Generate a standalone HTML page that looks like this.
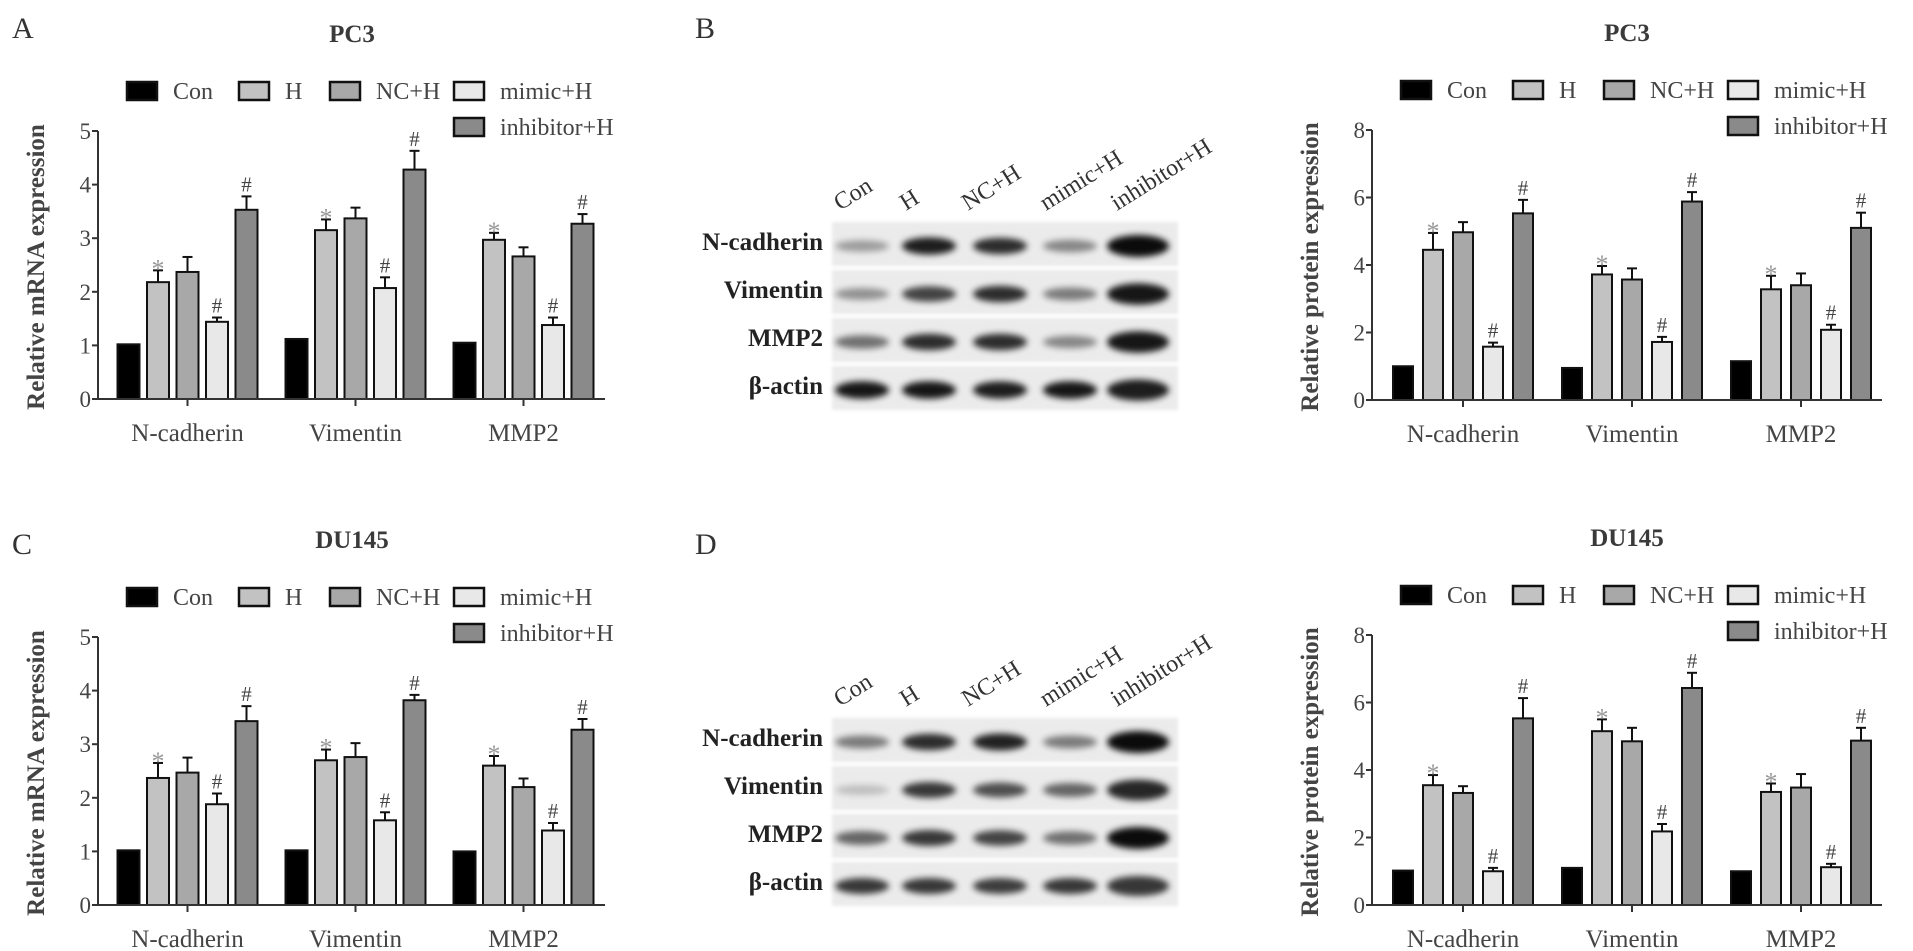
<!DOCTYPE html>
<html><head><meta charset="utf-8"><style>
html,body{margin:0;padding:0;background:#fff;}
svg{display:block;font-family:"Liberation Serif",serif;}
</style></head><body>
<svg id="fig" width="1913" height="951" viewBox="0 0 1913 951" xmlns="http://www.w3.org/2000/svg">
<defs>
<filter id="blur" x="-50%" y="-100%" width="200%" height="300%"><feGaussianBlur stdDeviation="3.2"/></filter>
<filter id="soft" x="-5%" y="-20%" width="110%" height="140%"><feGaussianBlur stdDeviation="1.5"/></filter>
</defs>
</svg>
<script>
const groups = ["N-cadherin", "Vimentin", "MMP2"];
const seriesNames = ["Con", "H", "NC+H", "mimic+H", "inhibitor+H"];
const aValues = [[1.02, 2.18, 2.37, 1.44, 3.53], [1.12, 3.15, 3.37, 2.07, 4.28], [1.05, 2.97, 2.66, 1.38, 3.27]];
const aErrors = [[0.02, 0.22, 0.28, 0.08, 0.25], [0.02, 0.2, 0.2, 0.2, 0.35], [0.02, 0.13, 0.17, 0.14, 0.18]];
const cValues = [[1.02, 2.37, 2.47, 1.88, 3.43], [1.02, 2.7, 2.76, 1.58, 3.82], [1.0, 2.6, 2.2, 1.39, 3.27]];
const cErrors = [[0.02, 0.28, 0.28, 0.2, 0.28], [0.02, 0.2, 0.26, 0.15, 0.1], [0.02, 0.18, 0.16, 0.14, 0.2]];
const bValues = [[1.0, 4.45, 4.97, 1.58, 5.53], [0.95, 3.72, 3.57, 1.72, 5.88], [1.15, 3.28, 3.4, 2.08, 5.1]];
const bErrors = [[0.02, 0.5, 0.3, 0.12, 0.4], [0.02, 0.25, 0.33, 0.15, 0.28], [0.02, 0.4, 0.35, 0.15, 0.45]];
const dValues = [[1.02, 3.55, 3.32, 1.0, 5.53], [1.1, 5.15, 4.85, 2.18, 6.43], [1.0, 3.35, 3.48, 1.12, 4.87]];
const dErrors = [[0.02, 0.3, 0.2, 0.1, 0.6], [0.02, 0.35, 0.4, 0.22, 0.45], [0.02, 0.25, 0.4, 0.1, 0.38]];
const sigMarks = ["", "*", "", "#", "#"];
const mrnaTicks = [0, 1, 2, 3, 4, 5];
const proteinTicks = [0, 2, 4, 6, 8];
const blotRows = ["N-cadherin", "Vimentin", "MMP2", "β-actin"];
const bBands = [[0.35, 0.92, 0.85, 0.45, 1.0], [0.4, 0.75, 0.85, 0.5, 0.95], [0.55, 0.85, 0.85, 0.45, 0.95], [0.95, 0.95, 0.92, 0.95, 0.92]];
const dBands = [[0.5, 0.85, 0.9, 0.5, 1.0], [0.2, 0.8, 0.7, 0.6, 0.88], [0.6, 0.8, 0.75, 0.55, 1.0], [0.8, 0.8, 0.78, 0.8, 0.8]];

const fills = ["#000000", "#c2c2c2", "#a8a8a8", "#e8e8e8", "#8a8a8a"];
const NS = "http://www.w3.org/2000/svg";
const svg = document.getElementById("fig");
function el(tag, attrs, parent, txt) {
  const e = document.createElementNS(NS, tag);
  for (const k in attrs) e.setAttribute(k, attrs[k]);
  if (txt !== undefined) e.textContent = txt;
  (parent || svg).appendChild(e);
  return e;
}

function drawChart(cfg, values, errors, ticks, ymax, title, ytitle, panelName) {
  const g = el("g", {});
  
  
  const ax = cfg.ax, y0 = cfg.y0, ytop = cfg.ytop;
  const yScale = v => y0 - (v / ymax) * (y0 - ytop);
  const xGroup = i => cfg.gx0 + i * cfg.gpitch;
  const t = el("text", {x: cfg.titleX, y: ytop - 89, "text-anchor": "middle", "font-size": 25, "font-weight": "bold", fill: "#3a3a3a"}, g, title);
  
  
  const lx = [29, 141, 232, 356, 356];
  const ly = [-40, -40, -40, -40, -4];
  for (let s = 0; s < seriesNames.length; s++) {
    const lg = el("g", {}, g);
    
    
    el("rect", {x: ax + lx[s], y: ytop + ly[s] - 9, width: 30, height: 18, fill: fills[s], stroke: "#111", "stroke-width": 2.5}, lg);
    el("text", {x: ax + lx[s] + 46, y: ytop + ly[s] + 8, "font-size": 24, fill: "#444"}, lg, seriesNames[s]);
  }
  for (let gi = 0; gi < groups.length; gi++) {
    for (let s = 0; s < seriesNames.length; s++) {
      const cx = xGroup(gi) + (s - 2) * cfg.pitch;
      const v = values[gi][s], e = errors[gi][s];
      const yv = yScale(v), ye = yScale(v + e);
      const bar = el("rect", {x: cx - cfg.bw / 2, y: yv, width: cfg.bw, height: y0 - yv, fill: fills[s], stroke: "#111", "stroke-width": 2}, g);
      
      
      if (e > 0.05) {
        el("line", {x1: cx, x2: cx, y1: yv, y2: ye, stroke: "#111", "stroke-width": 2}, g);
        el("line", {x1: cx - 5, x2: cx + 5, y1: ye, y2: ye, stroke: "#111", "stroke-width": 2}, g);
      }
      if (sigMarks[s]) {
        const m = el("text", {x: cx, y: ye - 5 + (sigMarks[s] === "*" ? 12 : 0), "text-anchor": "middle", "font-size": sigMarks[s] === "*" ? 26 : 21, fill: sigMarks[s] === "*" ? "#999" : "#444"}, g, sigMarks[s]);
        
        
      }
    }
    el("line", {x1: xGroup(gi), x2: xGroup(gi), y1: y0, y2: y0 + 7, stroke: "#333", "stroke-width": 2}, g);
    const xl = el("text", {x: xGroup(gi), y: y0 + 42, "text-anchor": "middle", "font-size": 25, fill: "#444"}, g, groups[gi]);
    
    
  }
  const yaxis = el("line", {x1: ax, x2: ax, y1: ytop, y2: y0 + 1, stroke: "#333", "stroke-width": 2}, g);
  
  
  const xaxis = el("line", {x1: ax - 1, x2: cfg.axEnd, y1: y0, y2: y0, stroke: "#333", "stroke-width": 2}, g);
  
  
  for (const tv of ticks) {
    const ty = yScale(tv);
    el("line", {x1: ax - 6, x2: ax, y1: ty, y2: ty, stroke: "#333", "stroke-width": 2}, g);
    const tl = el("text", {x: ax - 7, y: ty + 8, "text-anchor": "end", "font-size": 23, fill: "#444"}, g, String(tv));
    
    
  }
  const yt = el("text", {x: 0, y: 0, "text-anchor": "middle", "font-size": 25, "font-weight": "bold", fill: "#444",
    transform: "translate(" + (ax - 54) + "," + ((y0 + ytop) / 2 + 2) + ") rotate(-90)"}, g, ytitle);
  
  
}

function drawBlot(oy, bands, name) {
  const g = el("g", {});
  
  
  const lanes = [862, 929, 1000, 1070, 1138];
  const laneLabelX = [840, 906, 968, 1046, 1117];
  for (let l = 0; l < seriesNames.length; l++) {
    const t = el("text", {x: 0, y: 0, "font-size": 24, fill: "#333", transform: "translate(" + laneLabelX[l] + "," + (oy - 33) + ") rotate(-32)"}, g, seriesNames[l]);
    
    
  }
  const rowY = [0, 48, 96, 144];
  for (let r = 0; r < blotRows.length; r++) {
    const cy = oy + rowY[r];
    el("rect", {x: 832, y: cy - 22, width: 346, height: 44, fill: "#ebebeb", filter: "url(#soft)"}, g);
    const rl = el("text", {x: 823, y: cy + 6, "text-anchor": "end", "font-size": 25, "font-weight": "bold", fill: "#222"}, g, blotRows[r]);
    
    
    for (let l = 0; l < lanes.length; l++) {
      const it = bands[r][l];
      const b = el("ellipse", {cx: lanes[l], cy: cy + 2, rx: 27 + (l === 4 ? 4 : 0), ry: 4 + it * 5 + (l === 4 ? 2 : 0), fill: "#000", opacity: Math.min(1, it * 0.95), filter: "url(#blur)"}, g);
      
      
    }
  }
}

[["A", 12, 38], ["B", 695, 38], ["C", 12, 554], ["D", 695, 554]].forEach(p => {
  const t = el("text", {x: p[1], y: p[2], "font-size": 30, fill: "#333"}, svg, p[0]);
  
  
});

drawChart({ax: 98, y0: 399, ytop: 131, gx0: 187.5, gpitch: 168, pitch: 29.5, bw: 22, axEnd: 605, titleX: 352},
  aValues, aErrors, mrnaTicks, 5, "PC3", "Relative mRNA expression", "panel-a-chart");
drawChart({ax: 98, y0: 905, ytop: 637, gx0: 187.5, gpitch: 168, pitch: 29.5, bw: 22, axEnd: 605, titleX: 352},
  cValues, cErrors, mrnaTicks, 5, "DU145", "Relative mRNA expression", "panel-c-chart");
drawChart({ax: 1372, y0: 400, ytop: 130, gx0: 1463, gpitch: 169, pitch: 30, bw: 20, axEnd: 1882, titleX: 1627},
  bValues, bErrors, proteinTicks, 8, "PC3", "Relative protein expression", "panel-b-chart");
drawChart({ax: 1372, y0: 905, ytop: 635, gx0: 1463, gpitch: 169, pitch: 30, bw: 20, axEnd: 1882, titleX: 1627},
  dValues, dErrors, proteinTicks, 8, "DU145", "Relative protein expression", "panel-d-chart");
drawBlot(244, bBands, "panel-b-western-blot");
drawBlot(740, dBands, "panel-d-western-blot");
</script>
</body></html>
